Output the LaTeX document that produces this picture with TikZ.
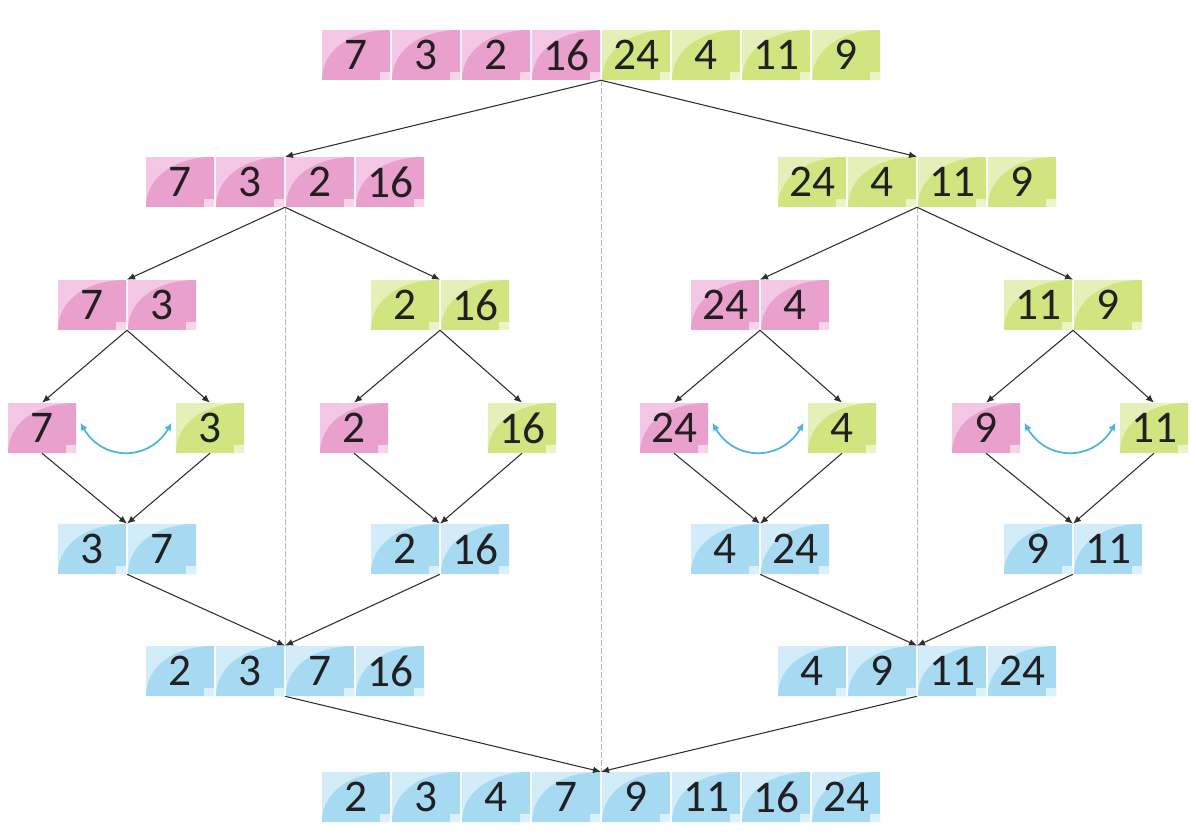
\documentclass[tikz,border=0pt]{standalone}
\usepackage{fontspec}
\setmainfont{Carlito}
\usetikzlibrary{arrows.meta,calc}
\definecolor{pinkL}{HTML}{F4C8E4}
\definecolor{pinkD}{HTML}{E9A0CD}
\definecolor{pinkS}{HTML}{F6D4EA}
\definecolor{greenL}{HTML}{E4F0B8}
\definecolor{greenD}{HTML}{D0E480}
\definecolor{greenS}{HTML}{EAF4C8}
\definecolor{blueL}{HTML}{D2ECF9}
\definecolor{blueD}{HTML}{A6DAF2}
\definecolor{blueS}{HTML}{DAF0FA}
\definecolor{txt}{HTML}{231F20}
\definecolor{swapblue}{HTML}{4DB2E6}
\tikzset{
  cell/.style={rectangle, minimum width=51pt, minimum height=37.5pt, inner sep=0pt,
    fill=#1L, text=txt, font=\fontsize{34pt}{34pt}\selectfont,
    path picture={
      \path (path picture bounding box.south west) coordinate (sw)
            (path picture bounding box.north east) coordinate (ne)
            (path picture bounding box.south east) coordinate (se);
      \fill[#1D] (sw) .. controls ([yshift=22pt]sw) and ([xshift=-30pt]ne) .. (ne) -- (se) -- cycle;
      \fill[#1S] (se) rectangle ([xshift=-7.5pt,yshift=6pt]se);
    }},
  arr/.style={-{Latex[length=6pt,width=5pt]}, line width=0.8pt, draw=black!82},
  guide/.style={draw=black!28, line width=0.6pt, dash pattern=on 4pt off 2pt},
  swaparr/.style={{Latex[length=6pt,width=5.5pt]}-{Latex[length=6pt,width=5.5pt]}, line width=1.3pt, draw=swapblue},
}
\newcommand\grp[6]{%
  \foreach \v [count=\i from #2] in {#6}
    \node[cell=#5] (#1\i) at ({#3+34+70*(\i-#2)},#4) {\v};%
}
\begin{document}
\begin{tikzpicture}[x=0.75pt,y=-0.75pt]
\useasboundingbox (0,0) rectangle (1196,834);
% rows
\grp{T}{1}{322}{55}{pink}{7,3,2,16}
\grp{T}{5}{602}{55}{green}{24,4,11,9}
\grp{A}{1}{146}{182}{pink}{7,3,2,16}
\grp{B}{1}{778}{182}{green}{24,4,11,9}
\grp{C}{1}{58}{305}{pink}{7,3}
\grp{D}{1}{371}{305}{green}{2,16}
\grp{E}{1}{691}{305}{pink}{24,4}
\grp{F}{1}{1004}{305}{green}{11,9}
\node[cell=pink]  (G1) at (42,428) {7};
\node[cell=green] (G2) at (210,428) {3};
\node[cell=pink]  (G3) at (354,428) {2};
\node[cell=green] (G4) at (522,428) {16};
\node[cell=pink]  (G5) at (674,428) {24};
\node[cell=green] (G6) at (842,428) {4};
\node[cell=pink]  (G7) at (986,428) {9};
\node[cell=green] (G8) at (1154,428) {11};
\grp{H}{1}{58}{549}{blue}{3,7}
\grp{I}{1}{371}{549}{blue}{2,16}
\grp{J}{1}{691}{549}{blue}{4,24}
\grp{K}{1}{1004}{549}{blue}{9,11}
\grp{M}{1}{146}{671}{blue}{2,3,7,16}
\grp{N}{1}{778}{671}{blue}{4,9,11,24}
\grp{Z}{1}{322}{797}{blue}{2,3,4,7,9,11,16,24}
% split points
\coordinate (Tb) at ($(T4.south east)!.5!(T5.south west)$);
\coordinate (At) at ($(A2.north east)!.5!(A3.north west)$);
\coordinate (Ab) at ($(A2.south east)!.5!(A3.south west)$);
\coordinate (Bt) at ($(B2.north east)!.5!(B3.north west)$);
\coordinate (Bb) at ($(B2.south east)!.5!(B3.south west)$);
\foreach \g in {C,D,E,F,H,I,J,K}{
  \coordinate (\g t) at ($(\g1.north east)!.5!(\g2.north west)$);
  \coordinate (\g b) at ($(\g1.south east)!.5!(\g2.south west)$);
}
\coordinate (Mt) at ($(M2.north east)!.5!(M3.north west)$);
\coordinate (Mb) at ($(M2.south east)!.5!(M3.south west)$);
\coordinate (Nt) at ($(N2.north east)!.5!(N3.north west)$);
\coordinate (Nb) at ($(N2.south east)!.5!(N3.south west)$);
\coordinate (Zt) at ($(Z4.north east)!.5!(Z5.north west)$);
% guides
\draw[guide] (Tb) -- (Zt);
\draw[guide] (Ab) -- (Mt);
\draw[guide] (Bb) -- (Nt);
% arrows
\draw[arr] (Tb) -- (At);
\draw[arr] (Tb) -- (Bt);
\draw[arr] (Ab) -- (Ct);
\draw[arr] (Ab) -- (Dt);
\draw[arr] (Bb) -- (Et);
\draw[arr] (Bb) -- (Ft);
\draw[arr] (Cb) -- (G1.north);
\draw[arr] (Cb) -- (G2.north);
\draw[arr] (Db) -- (G3.north);
\draw[arr] (Db) -- (G4.north);
\draw[arr] (Eb) -- (G5.north);
\draw[arr] (Eb) -- (G6.north);
\draw[arr] (Fb) -- (G7.north);
\draw[arr] (Fb) -- (G8.north);
\draw[arr] (G1.south) -- (Ht);
\draw[arr] (G2.south) -- (Ht);
\draw[arr] (G3.south) -- (It);
\draw[arr] (G4.south) -- (It);
\draw[arr] (G5.south) -- (Jt);
\draw[arr] (G6.south) -- (Jt);
\draw[arr] (G7.south) -- (Kt);
\draw[arr] (G8.south) -- (Kt);
\draw[arr] (Hb) -- (Mt);
\draw[arr] (Ib) -- (Mt);
\draw[arr] (Jb) -- (Nt);
\draw[arr] (Kb) -- (Nt);
\draw[arr] (Mb) -- (Zt);
\draw[arr] (Nb) -- (Zt);
% swaps
\foreach \a/\b in {G1/G2,G5/G6,G7/G8}{
  \draw[swaparr] ([xshift=3pt,yshift=4pt]\a.east) .. controls ([xshift=20pt,yshift=-25pt]\a.east) and ([xshift=-20pt,yshift=-25pt]\b.west) .. ([xshift=-3pt,yshift=4pt]\b.west);
}
\end{tikzpicture}
\end{document}
